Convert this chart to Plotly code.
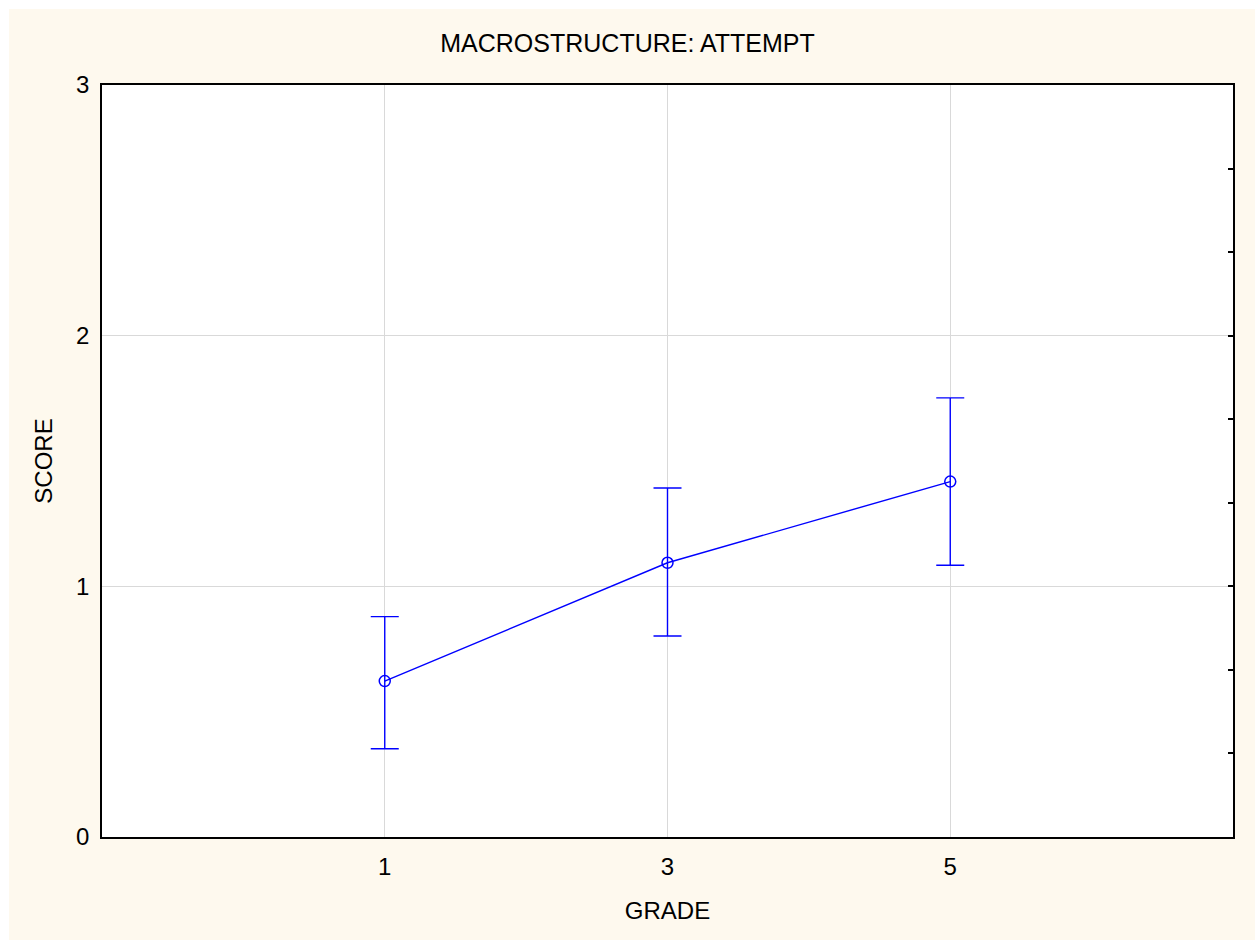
import plotly.graph_objects as go

# Mean score per grade with confidence interval bounds
grades = [1, 3, 5]
score_mean = [0.622, 1.094, 1.418]
score_upper = [0.879, 1.392, 1.752]
score_lower = [0.352, 0.802, 1.084]

x_ticks = [1, 3, 5]
y_ticks = [0, 1, 2, 3]
right_ticks = [i / 3 for i in range(10)]

err_plus = [u - m for u, m in zip(score_upper, score_mean)]
err_minus = [m - l for m, l in zip(score_mean, score_lower)]

BLUE = "#0000FF"
CREAM = "#FEF9EE"
FONT = "Liberation Sans, Arial, sans-serif"

W, H = 1255, 940
L, R, T, B = 102, 22, 85, 103
pw, ph = W - L - R, H - T - B

fig = go.Figure()
fig.add_trace(go.Scatter(
    x=grades, y=score_mean,
    mode="lines+markers",
    line=dict(color=BLUE, width=1.4),
    marker=dict(symbol="circle-open", size=11, color=BLUE, line=dict(width=1.5, color=BLUE)),
    error_y=dict(type="data", symmetric=False, array=err_plus, arrayminus=err_minus,
                 color=BLUE, thickness=1.4, width=14),
    showlegend=False,
))
# carrier trace for the right-hand tick axis
fig.add_trace(go.Scatter(
    x=grades, y=score_mean, yaxis="y2", mode="markers",
    marker=dict(opacity=0), hoverinfo="skip", showlegend=False,
))

# thin white rim along the top and left page edges
def px_x(p):
    return (p - L) / pw

def px_y(p):
    return (H - B - p) / ph

fig.add_shape(type="rect", xref="paper", yref="paper", layer="below",
              x0=px_x(-5), x1=px_x(W + 5), y0=px_y(9), y1=px_y(-5),
              fillcolor="white", line=dict(width=0))
fig.add_shape(type="rect", xref="paper", yref="paper", layer="below",
              x0=px_x(-5), x1=px_x(9), y0=px_y(H + 5), y1=px_y(-5),
              fillcolor="white", line=dict(width=0))

fig.update_layout(
    width=W, height=H,
    margin=dict(l=L, r=R, t=T, b=B),
    paper_bgcolor=CREAM,
    plot_bgcolor="white",
    font=dict(family=FONT, size=24, color="black"),
    title=dict(text="MACROSTRUCTURE: ATTEMPT", x=0.5, xref="container", xanchor="center",
               y=1 - 43 / H, yanchor="middle", font=dict(family=FONT, size=25, color="black")),
    xaxis=dict(
        range=[-1, 7], tickvals=x_ticks, ticktext=[str(v) for v in x_ticks],
        tickfont=dict(family=FONT, size=24, color="black"),
        ticklabelstandoff=7,
        showgrid=True, gridcolor="#D9D9D9", gridwidth=1, zeroline=False,
        showline=True, linecolor="black", linewidth=1.5, mirror=True,
        ticks="", title=dict(text="GRADE", standoff=24,
                             font=dict(family=FONT, size=24, color="black")),
    ),
    yaxis=dict(
        range=[0, 3], tickvals=y_ticks, ticktext=[str(v) for v in y_ticks],
        tickfont=dict(family=FONT, size=24, color="black"),
        ticklabelstandoff=6,
        showgrid=True, gridcolor="#D9D9D9", gridwidth=1, zeroline=False,
        showline=True, linecolor="black", linewidth=1.5, mirror=True,
        ticks="", title=dict(text="SCORE", standoff=17,
                             font=dict(family=FONT, size=24, color="black")),
    ),
    yaxis2=dict(
        range=[0, 3], overlaying="y", side="right", tickvals=right_ticks,
        ticks="inside", ticklen=5, tickwidth=1.5, tickcolor="black",
        showticklabels=False, showgrid=False, zeroline=False, showline=False,
    ),
)

fig.write_html("out.html")
